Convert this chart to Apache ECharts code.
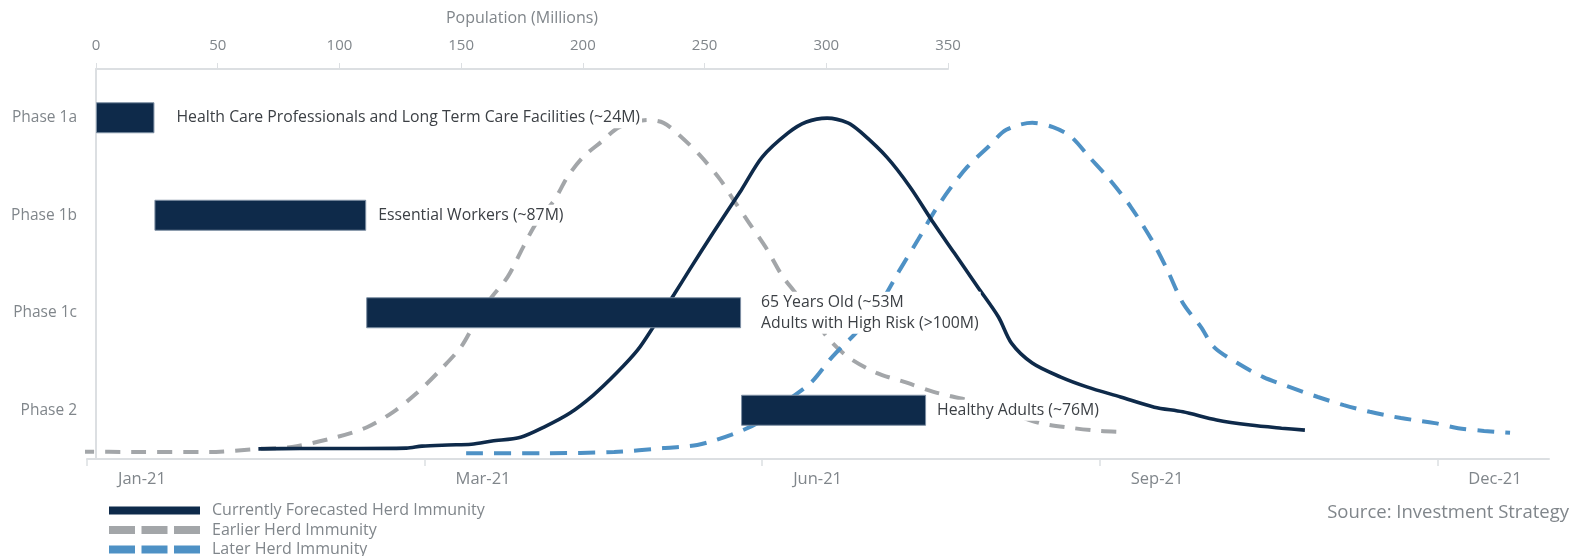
<!DOCTYPE html>
<html>
<head>
<meta charset="utf-8">
<script src="https://cdn.jsdelivr.net/npm/echarts@6/dist/echarts.min.js"></script>
<style>
  html, body { margin: 0; padding: 0; background: #ffffff; }
  #chart { width: 1570px; height: 556px; }
</style>
</head>
<body>
<div id="chart"></div>
<script>
// ---- Vaccination phases (population in millions) ----
const phases = ['Phase 1a', 'Phase 1b', 'Phase 1c', 'Phase 2'];
const phaseStart = [0, 24, 111, 265];
const phaseSize = [24, 87, 154, 76];
const phaseLabels = [
  'Health Care Professionals and Long Term Care Facilities (~24M)',
  'Essential Workers (~87M)',
  '65 Years Old (~53M\nAdults with High Risk (>100M)',
  'Healthy Adults (~76M)'
];

// ---- Timeline (weeks from start of 2021) ----
const periodWeeks = [0, 13, 26, 39, 52];
const periodLabels = ['Jan-21', 'Mar-21', 'Jun-21', 'Sep-21', 'Dec-21'];

// ---- Herd immunity curves: [week, relative level] ----
const currentForecast = [
  [6.6, 2.6], [8.2, 2.7], [10.1, 2.7], [12.3, 2.8], [12.9, 3.3], [13.9, 3.6], [14.8, 3.8],
  [15.6, 4.6], [16.7, 5.6], [17.6, 8.2], [18.6, 11.8], [19.5, 16.4], [20.4, 22.1], [21.2, 27.9],
  [21.8, 33.8], [22.6, 42.1], [23.2, 48.5], [24.1, 57.9], [25.2, 69.0], [26.0, 77.4], [27.0, 83.6],
  [27.7, 86.4], [28.5, 87.4], [29.3, 86.2], [29.8, 83.8], [30.8, 77.4], [31.7, 69.7], [32.6, 60.5],
  [33.4, 52.8], [34.3, 44.1], [35.1, 36.4], [35.6, 29.7], [36.4, 24.6], [37.5, 21.0], [38.5, 18.5],
  [39.8, 15.9], [41.1, 13.3], [42.2, 12.1], [43.5, 10.0], [44.8, 8.7], [46.0, 7.9], [46.9, 7.4]
];
const earlierImmunity = [
  [-0.3, 1.9], [1.7, 1.8], [4.7, 1.8], [6.6, 2.6], [7.9, 3.1], [9.6, 5.6], [10.8, 8.2],
  [11.8, 12.1], [12.7, 16.9], [13.6, 22.8], [14.4, 28.7], [14.9, 34.4], [15.5, 40.8], [16.2, 46.7],
  [16.8, 54.4], [17.3, 60.5], [18.0, 66.4], [18.5, 72.3], [19.1, 77.4], [19.8, 81.3], [20.5, 85.1],
  [21.6, 86.9], [22.2, 86.2], [22.8, 83.1], [23.6, 77.9], [24.4, 71.5], [24.9, 66.4], [25.5, 60.5],
  [26.2, 53.6], [26.8, 46.7], [27.6, 40.0], [28.5, 31.3], [29.3, 26.2], [30.4, 22.1], [31.6, 19.5],
  [32.6, 17.2], [33.9, 15.1], [35.2, 12.6], [36.7, 9.2], [38.0, 7.9], [39.0, 7.2], [40.0, 6.9]
];
const laterImmunity = [
  [14.6, 1.5], [17.7, 1.5], [20.3, 1.8], [22.2, 2.8], [23.5, 3.6], [24.8, 6.2], [25.9, 9.5],
  [27.0, 15.1], [27.9, 19.7], [28.7, 26.2], [29.7, 33.0], [30.6, 40.5], [31.3, 48.5], [32.0, 56.2],
  [32.6, 63.1], [33.2, 69.0], [33.9, 74.9], [34.7, 80.0], [35.4, 84.4], [36.4, 86.2], [37.2, 85.1],
  [37.9, 82.6], [38.6, 77.4], [39.4, 71.5], [40.2, 64.6], [41.0, 56.2], [41.6, 48.5], [42.2, 40.0],
  [42.9, 33.8], [43.4, 28.7], [44.3, 24.6], [45.3, 21.0], [46.3, 18.5], [47.4, 15.9], [48.4, 13.8],
  [49.4, 12.1], [50.6, 10.5], [51.9, 9.2], [52.8, 7.9], [53.8, 7.2], [54.8, 6.7]
];

// ---- Styling ----
const NAVY = '#0e2a4a';
const GREY = '#a3a6a9';
const BLUE = '#4e91c5';
const AXIS = '#dcdfe2';
const MUTED = '#80868b';
const FONT = 'Open Sans';
const labelGap = [20, 10, 18, 9];
const DASH_ICON = 'path://M0,0H26V8H0Z M32.5,0H58.5V8H32.5Z M65,0H91V8H65Z';

const chart = echarts.init(document.getElementById('chart'), null, { renderer: 'canvas' });

const option = {
  animation: false,
  backgroundColor: '#ffffff',
  textStyle: { fontFamily: FONT },
  title: {
    text: 'Source: Investment Strategy',
    right: 1,
    top: 503,
    padding: 0,
    textStyle: { color: MUTED, fontSize: 18.5, fontWeight: 'normal', fontFamily: FONT }
  },
  legend: {
    orient: 'vertical',
    left: 104,
    top: 497,
    height: 80,
    itemWidth: 91,
    itemHeight: 8,
    itemGap: 2.5,
    selectedMode: false,
    textStyle: { color: MUTED, fontSize: 16, lineHeight: 17, padding: [0, 0, 0, 7], fontFamily: FONT },
    data: [
      { name: 'Currently Forecasted Herd Immunity', icon: 'rect' },
      { name: 'Earlier Herd Immunity', icon: DASH_ICON },
      { name: 'Later Herd Immunity', icon: DASH_ICON }
    ]
  },
  grid: [
    { left: 96, right: 622, top: 69, bottom: 97 },
    { left: 87, right: 21, top: 69, bottom: 97 }
  ],
  xAxis: [
    {
      gridIndex: 0,
      type: 'value',
      position: 'top',
      min: 0,
      max: 350,
      interval: 50,
      name: 'Population (Millions)',
      nameLocation: 'middle',
      nameGap: 43,
      nameTextStyle: { color: MUTED, fontSize: 16, fontFamily: FONT },
      axisLine: { show: true, lineStyle: { color: AXIS, width: 2 } },
      axisTick: { show: true, length: 6, lineStyle: { color: AXIS, width: 1 } },
      axisLabel: { margin: 16, color: MUTED, fontSize: 15, fontFamily: FONT },
      splitLine: { show: false }
    },
    {
      gridIndex: 1,
      type: 'value',
      position: 'bottom',
      min: 0,
      max: 56.3,
      axisLine: { show: true, lineStyle: { color: AXIS, width: 2 } },
      axisTick: { show: true, length: 7, customValues: periodWeeks, lineStyle: { color: AXIS, width: 1.5 } },
      axisLabel: {
        customValues: periodWeeks,
        formatter: v => periodLabels[periodWeeks.indexOf(v)] || '',
        align: 'left',
        padding: [0, 0, 0, 31],
        margin: 12,
        color: MUTED,
        fontSize: 16.5,
        fontFamily: FONT
      },
      splitLine: { show: false }
    }
  ],
  yAxis: [
    {
      gridIndex: 0,
      type: 'category',
      data: phases,
      inverse: true,
      axisLine: { show: true, lineStyle: { color: AXIS, width: 2 } },
      axisTick: { show: false },
      axisLabel: { margin: 19, color: MUTED, fontSize: 15.5, fontFamily: FONT },
      splitLine: { show: false }
    },
    { gridIndex: 1, type: 'value', min: 0, max: 100, show: false, splitLine: { show: false } }
  ],
  series: [
    {
      name: 'Earlier Herd Immunity',
      type: 'line',
      xAxisIndex: 1,
      yAxisIndex: 1,
      data: earlierImmunity,
      color: GREY,
      symbol: 'none',
      smooth: 0.3,
      clip: false,
      z: 2,
      lineStyle: { color: GREY, width: 4, type: [15, 11] }
    },
    {
      name: 'Later Herd Immunity',
      type: 'line',
      xAxisIndex: 1,
      yAxisIndex: 1,
      data: laterImmunity,
      color: BLUE,
      symbol: 'none',
      smooth: 0.3,
      clip: false,
      z: 2,
      lineStyle: { color: BLUE, width: 4, type: [17, 11] }
    },
    {
      name: 'Currently Forecasted Herd Immunity',
      type: 'line',
      xAxisIndex: 1,
      yAxisIndex: 1,
      data: currentForecast,
      color: NAVY,
      symbol: 'none',
      smooth: 0.3,
      clip: false,
      z: 2,
      lineStyle: { color: NAVY, width: 3.6 }
    },
    {
      name: 'start',
      type: 'bar',
      xAxisIndex: 0,
      yAxisIndex: 0,
      stack: 'phase',
      silent: true,
      barWidth: 31,
      itemStyle: { color: 'transparent' },
      data: phaseStart,
      z: 3
    },
    {
      name: 'population',
      type: 'bar',
      xAxisIndex: 0,
      yAxisIndex: 0,
      stack: 'phase',
      barWidth: 31,
      z: 3,
      itemStyle: { color: NAVY, borderColor: '#7d8fa3', borderWidth: 1 },
      label: {
        show: true,
        position: 'right',
        formatter: p => phaseLabels[p.dataIndex],
        color: '#3c4045',
        fontSize: 15.8,
        lineHeight: 21,
        fontFamily: FONT,
        backgroundColor: '#ffffff',
        padding: [0, 2]
      },
      data: phaseSize.map((v, i) => ({ value: v, label: { distance: labelGap[i] } }))
    }
  ]
};

chart.setOption(option);
</script>
</body>
</html>
